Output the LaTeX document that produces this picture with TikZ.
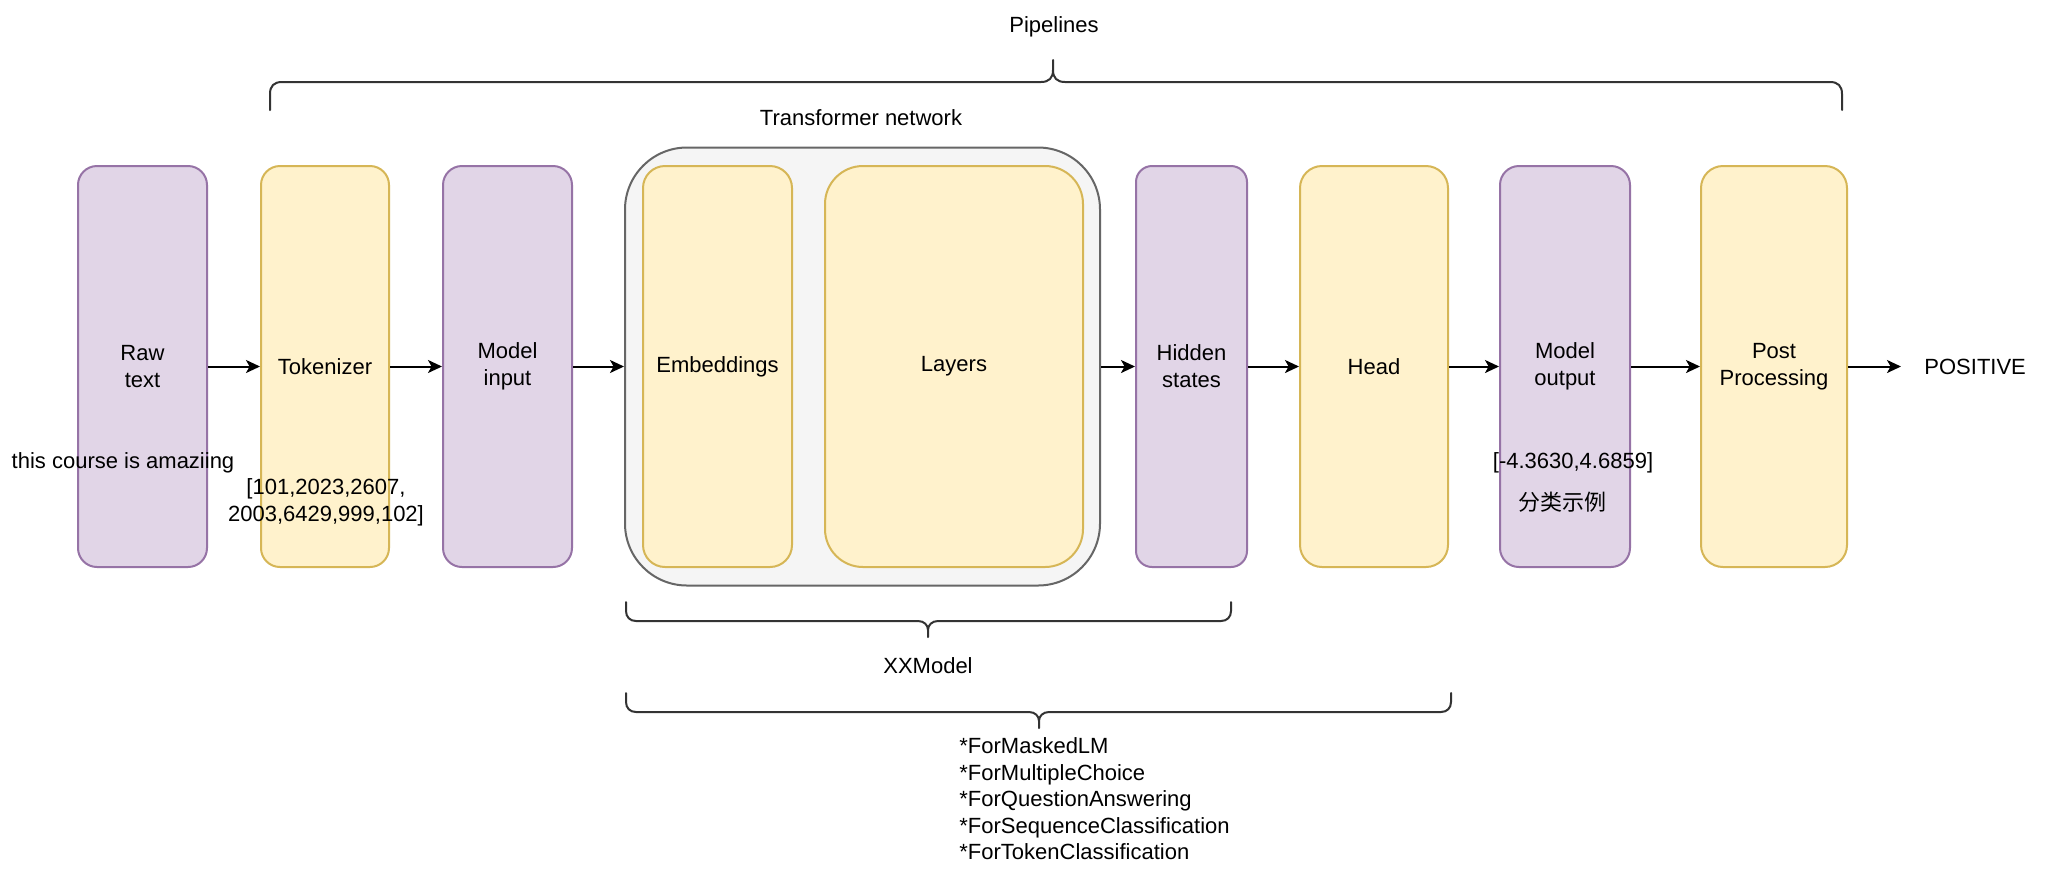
\documentclass[tikz,border=0pt]{standalone}
\usepackage{fontspec}
\setmainfont{Liberation Sans}
\newfontfamily\cjkfont{Noto Sans CJK SC}
\usetikzlibrary{arrows.meta}
\definecolor{pfill}{HTML}{E1D5E7}
\definecolor{pdraw}{HTML}{9673A6}
\definecolor{yfill}{HTML}{FFF2CC}
\definecolor{ydraw}{HTML}{D6B656}
\definecolor{ofill}{HTML}{F5F5F5}
\definecolor{odraw}{HTML}{666666}
\definecolor{bracecol}{HTML}{333333}
\begin{document}
\begin{tikzpicture}[x=0.5pt,y=-0.5pt,
  font=\fontsize{11}{13.5}\selectfont,
  box/.style={line width=1pt, minimum height=200.5pt, align=center, inner sep=0pt},
  pbox/.style={box, fill=pfill, draw=pdraw},
  ybox/.style={box, fill=yfill, draw=ydraw},
  arr/.style={draw=black, line width=1pt, -{Stealth[length=7pt,width=6.5pt,inset=1.8pt]}},
  brc/.style={draw=bracecol, line width=1pt, line join=round, line cap=round},
  lbl/.style={inner sep=0pt, align=center}]
\useasboundingbox (0,0) rectangle (2046,880);
\fill[white] (0,0) rectangle (2046,880);

% boxes
\node[pbox, minimum width=64.5pt, rounded corners=9.5pt] (raw) at (142.5,366.5) {Raw\\text};
\node[ybox, minimum width=64pt, rounded corners=9.5pt] (tok) at (325,366.5) {Tokenizer};
\node[pbox, minimum width=64.5pt, rounded corners=9.5pt] (mi) at (507.5,366.5) {Model\\input};
\node[draw=odraw, fill=ofill, line width=1pt, rounded corners=31pt, minimum width=237.5pt, minimum height=219pt, inner sep=0pt] (tf) at (862.5,366.5) {};
\node[ybox, minimum width=74.5pt, rounded corners=11pt] (emb) at (717.5,366.5) {Embeddings};
\node[ybox, minimum width=129pt, rounded corners=19pt] (lay) at (954,366.5) {Layers};
\node[pbox, minimum width=55.5pt, rounded corners=8pt] (hid) at (1191.5,366.5) {Hidden\\states};
\node[ybox, minimum width=74pt, rounded corners=11pt] (head) at (1374,366.5) {Head};
\node[pbox, minimum width=65pt, rounded corners=9.5pt] (mo) at (1565,366.5) {Model\\output};
\node[ybox, minimum width=73pt, rounded corners=11pt] (post) at (1774,366.5) {Post\\Processing};
\node[lbl, inner xsep=11.5pt, anchor=west] (pos) at (1901,366.5) {POSITIVE};

% arrows
\draw[arr] (raw.east) -- (tok.west);
\draw[arr] (tok.east) -- (mi.west);
\draw[arr] (mi.east) -- (tf.west);
\draw[arr] (tf.east) -- (hid.west);
\draw[arr] (hid.east) -- (head.west);
\draw[arr] (head.east) -- (mo.west);
\draw[arr] (mo.east) -- (post.west);
\draw[arr] (post.east) -- (pos.west);

% labels
\node[lbl] (pipe) at (1054,27) {Pipelines};
\node[lbl] (tfl) at (861,118) {Transformer network};
\node[lbl] (xxm) at (928,666) {XXModel};
\node[lbl] (txt) at (123,463) {this course is amaziing};
\node[lbl] (ids) at (326,502) {[101,2023,2607,\\2003,6429,999,102]};
\node[lbl] (logit) at (1573,463) {[-4.3630,4.6859]};
\node[lbl] (cls) at (1562,502) {\cjkfont 分类示例};
\node[lbl, align=left, anchor=west, font=\fontsize{11}{13.25}\selectfont] (heads) at (959,799) {*ForMaskedLM\\*ForMultipleChoice\\*ForQuestionAnswering\\*ForSequenceClassification\\*ForTokenClassification};

% braces
\draw[brc] (270,110) -- (270,94) .. controls (270,86) and (274,82) .. (282,82) -- (1041,82) .. controls (1049,82) and (1053,78) .. (1053,70) -- (1053,60)
  (1053,70) .. controls (1053,78) and (1057,82) .. (1065,82) -- (1830,82) .. controls (1838,82) and (1842,86) .. (1842,94) -- (1842,110);
\draw[brc] (626,602) -- (626,611) .. controls (626,617) and (630,621) .. (636,621) -- (918,621) .. controls (924,621) and (928,625) .. (928,630) -- (928,637)
  (928,630) .. controls (928,625) and (932,621) .. (938,621) -- (1221,621) .. controls (1227,621) and (1231,617) .. (1231,611) -- (1231,602);
\draw[brc] (626,693) -- (626,702) .. controls (626,708) and (630,712) .. (636,712) -- (1029,712) .. controls (1035,712) and (1039,716) .. (1039,721) -- (1039,728)
  (1039,721) .. controls (1039,716) and (1043,712) .. (1049,712) -- (1441,712) .. controls (1447,712) and (1451,708) .. (1451,702) -- (1451,693);
\end{tikzpicture}
\end{document}
